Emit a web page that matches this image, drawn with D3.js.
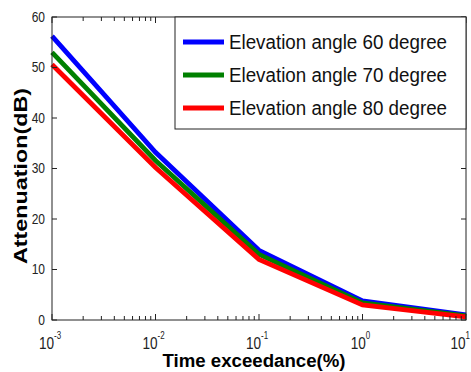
<!DOCTYPE html>
<html><head><meta charset="utf-8">
<script src="https://cdn.jsdelivr.net/npm/d3@7"></script>
<style>body{margin:0;background:#fff}text{font-family:"Liberation Sans",Arial,sans-serif}</style>
</head><body><svg id="c" width="471" height="372"></svg>
<script>
const timePct = [0.001, 0.01, 0.1, 1, 10];
const att60 = [56.2, 33.2, 13.8, 3.8, 1.0];
const att70 = [53.0, 31.6, 13.0, 3.4, 0.8];
const att80 = [50.6, 30.2, 12.0, 3.0, 0.6];
const seriesNames = ["Elevation angle 60 degree","Elevation angle 70 degree","Elevation angle 80 degree"];
const colors = ["#0000ff","#008000","#ff0000"];
const yTicks = [0,10,20,30,40,50,60];
const xTickExp = [-3,-2,-1,0,1];

const svg = d3.select("#c");
const L=52,R=466,T=17,B=320;
const x = d3.scaleLog().domain([0.001,10]).range([L,R]);
const y = d3.scaleLinear().domain([0,60]).range([B,T]);

const line = d3.line().x((d,i)=>x(timePct[i])).y(d=>y(d));
[att60,att70,att80].forEach((s,k)=>{
  svg.append("path").attr("d",line(s)).attr("fill","none").attr("stroke",colors[k]).attr("stroke-width",4.8);
});

svg.append("rect").attr("x",L).attr("y",T).attr("width",R-L).attr("height",B-T).attr("fill","none").attr("stroke","#222").attr("stroke-width",1);

const minor=[];
for(let e=-3;e<1;e++) for(let m=2;m<=9;m++) minor.push(m*Math.pow(10,e));
const g=svg.append("g").attr("stroke","#222").attr("stroke-width",1);
xTickExp.forEach(e=>{const xx=x(Math.pow(10,e));
  g.append("line").attr("x1",xx).attr("x2",xx).attr("y1",B).attr("y2",B-6);
  g.append("line").attr("x1",xx).attr("x2",xx).attr("y1",T).attr("y2",T+6);});
minor.forEach(v=>{const xx=x(v);
  g.append("line").attr("x1",xx).attr("x2",xx).attr("y1",B).attr("y2",B-4);
  g.append("line").attr("x1",xx).attr("x2",xx).attr("y1",T).attr("y2",T+4);});
yTicks.forEach(v=>{const yy=y(v);
  g.append("line").attr("x1",L).attr("x2",L+5).attr("y1",yy).attr("y2",yy);
  g.append("line").attr("x1",R).attr("x2",R-5).attr("y1",yy).attr("y2",yy);});

yTicks.forEach(v=>{
  svg.append("text").attr("x",45).attr("y",y(v)+5).attr("text-anchor","end")
    .attr("font-size",15).attr("fill","#222").attr("transform",`translate(45,0) scale(0.8,1) translate(-45,0)`).text(v);
});
xTickExp.forEach((e,i)=>{
  const xx=x(Math.pow(10,e));
  const last = i===xTickExp.length-1;
  const ax = last ? 470 : xx-2;
  const t=svg.append("text").attr("x",ax).attr("y",349).attr("text-anchor",last?"end":"middle").attr("font-size",17).attr("fill","#222")
    .attr("transform",`translate(${ax},0) scale(0.8,1) translate(${-ax},0)`);
  t.append("tspan").text("10");
  t.append("tspan").attr("dy",-10).attr("font-size",10).text(e);
});

svg.append("text").attr("x",254).attr("y",367).attr("text-anchor","middle").attr("font-size",18).attr("font-weight","bold")
  .attr("textLength",183).attr("lengthAdjust","spacingAndGlyphs").text("Time exceedance(%)");
svg.append("text").attr("transform","translate(27,176) rotate(-90)").attr("text-anchor","middle").attr("font-size",18).attr("font-weight","bold")
  .attr("textLength",176).attr("lengthAdjust","spacingAndGlyphs").text("Attenuation(dB)");

svg.append("rect").attr("x",175).attr("y",17).attr("width",291).attr("height",112).attr("fill","#fff").attr("stroke","#222");
seriesNames.forEach((n,k)=>{
  const yy=42+k*33;
  svg.append("line").attr("x1",183).attr("x2",224).attr("y1",yy).attr("y2",yy).attr("stroke",colors[k]).attr("stroke-width",4.8);
  svg.append("text").attr("x",229).attr("y",yy+7).attr("font-size",20).attr("fill","#111")
    .attr("textLength",218).attr("lengthAdjust","spacingAndGlyphs").text(n);
});
</script></body></html>
